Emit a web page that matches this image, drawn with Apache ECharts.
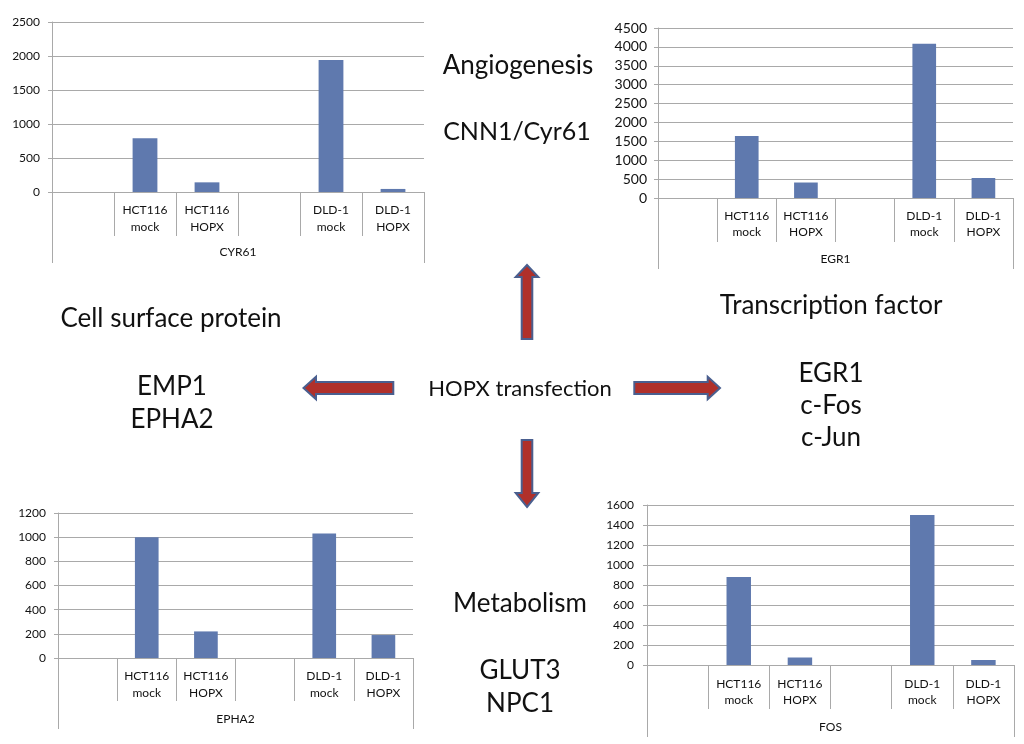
<!DOCTYPE html>
<html>
<head>
<meta charset="utf-8">
<script src="https://cdn.jsdelivr.net/npm/echarts@6/dist/echarts.min.js"></script>
<style>html,body{margin:0;padding:0;background:#fff;}#c{width:1024px;height:744px;}</style>
</head>
<body>
<div id="c"></div>
<script>
// ---- data ----
const categories = ['', 'HCT116\nmock', 'HCT116\nHOPX', ' ', 'DLD-1\nmock', 'DLD-1\nHOPX'];
const cyr61 = [null, 790, 142, null, 1940, 45];
const egr1 = [null, 1640, 410, null, 4080, 530];
const epha2 = [null, 1000, 220, null, 1030, 190];
const fos = [null, 880, 75, null, 1500, 50];
const panelNames = ['CYR61', 'EGR1', 'EPHA2', 'FOS'];
const yMax = [2500, 4500, 1200, 1600];
const yInterval = [500, 500, 200, 200];

// ---- layout ----
const panels = [
  {values: cyr61, grid: {left: 52, top: 22, width: 372, height: 170}, yFont: 12, yMargin: 12, catMargin: 9, catLH: 17.5, inner: 44, outer: 71, outerMargin: 54},
  {values: egr1, grid: {left: 658, top: 28, width: 355, height: 170}, yFont: 14, yMargin: 11, catMargin: 10, catLH: 16, inner: 44, outer: 71, outerMargin: 55},
  {values: epha2, grid: {left: 58, top: 513, width: 355, height: 145}, yFont: 12, yMargin: 12, catMargin: 10, catLH: 16.5, inner: 43, outer: 71, outerMargin: 55},
  {values: fos, grid: {left: 647, top: 505, width: 367, height: 160}, yFont: 12, yMargin: 13, catMargin: 11, catLH: 16, inner: 44, outer: 72, outerMargin: 56}
];

const FONT = 'Lato';
const GRAY = '#a9a9a9';
const BAR = '#5f79ae';
const TXT = '#111';

const grid = [], xAxis = [], yAxis = [], series = [];
panels.forEach((p, i) => {
  grid.push(Object.assign({containLabel: false}, p.grid));
  xAxis.push({
    type: 'category', gridIndex: i, position: 'bottom', data: categories,
    axisLine: {show: true, lineStyle: {color: GRAY, width: 1}},
    axisTick: {show: true, length: p.inner, interval: 0, lineStyle: {color: GRAY}},
    axisLabel: {interval: 0, margin: p.catMargin, fontFamily: FONT, fontSize: 12, lineHeight: p.catLH, color: TXT}
  });
  xAxis.push({
    type: 'category', gridIndex: i, position: 'bottom', data: [panelNames[i]],
    axisLine: {show: false},
    axisTick: {show: true, length: p.outer, lineStyle: {color: GRAY}},
    axisLabel: {margin: p.outerMargin, fontFamily: FONT, fontSize: 12, color: TXT}
  });
  yAxis.push({
    type: 'value', gridIndex: i, min: 0, max: yMax[i], interval: yInterval[i],
    axisLine: {show: true, lineStyle: {color: GRAY}},
    axisTick: {show: true, length: 4, lineStyle: {color: GRAY}},
    splitLine: {show: true, lineStyle: {color: GRAY}},
    axisLabel: {margin: p.yMargin, fontFamily: FONT, fontSize: p.yFont, color: TXT, formatter: v => String(v)}
  });
  series.push({
    type: 'bar', xAxisIndex: i * 2, yAxisIndex: i, data: p.values,
    barWidth: '40%', itemStyle: {color: BAR}, silent: true
  });
});

// ---- annotation texts ----
const bigTexts = [
  ['Angiogenesis', 518, 66, 26],
  ['CNN1/Cyr61', 517, 132, 25],
  ['Cell surface protein', 171, 319, 26],
  ['EMP1', 172, 387, 26],
  ['EPHA2', 172, 419.5, 26],
  ['Transcription factor', 831, 305.5, 26],
  ['EGR1', 831, 374, 26],
  ['c-Fos', 831, 405.5, 26],
  ['c-Jun', 831, 437.5, 26],
  ['HOPX transfection', 520, 389, 22],
  ['Metabolism', 520, 604, 26],
  ['GLUT3', 520, 671, 26],
  ['NPC1', 520, 704, 26]
];

const graphic = bigTexts.map(t => ({
  type: 'text', x: t[1], y: t[2],
  style: {text: t[0], fontFamily: FONT, fontSize: t[3], fill: TXT, align: 'center', verticalAlign: 'middle'}
}));

const arrowStyle = {fill: '#b0302a', stroke: '#4a5f8f', lineWidth: 2};
const arrows = [
  [[527,265],[538.3,277],[532.3,277],[532.3,339],[521.7,339],[521.7,277],[515.7,277]],
  [[527,507],[538.3,493],[532.3,493],[532.3,440],[521.7,440],[521.7,493],[515.7,493]],
  [[303.5,388],[316,376.7],[316,382],[393.3,382],[393.3,394],[316,394],[316,399.3]],
  [[720,388],[707.7,376.7],[707.7,382],[634.3,382],[634.3,394],[707.7,394],[707.7,399.3]]
];
arrows.forEach(pts => graphic.push({type: 'polygon', shape: {points: pts}, style: arrowStyle}));

const chart = echarts.init(document.getElementById('c'), null, {renderer: 'canvas'});
chart.setOption({
  animation: false,
  backgroundColor: '#fff',
  grid, xAxis, yAxis, series, graphic
});
</script>
</body>
</html>
